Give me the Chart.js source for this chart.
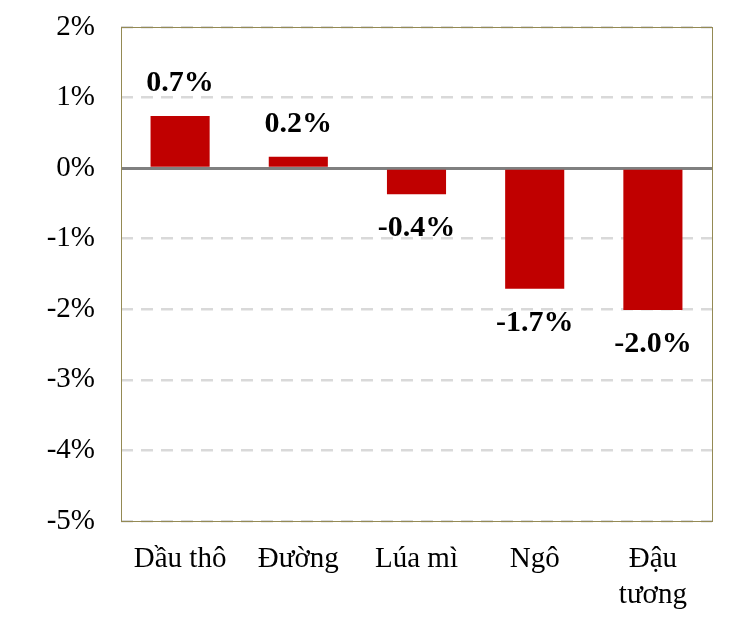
<!DOCTYPE html>
<html>
<head>
<meta charset="utf-8">
<script src="https://cdn.jsdelivr.net/npm/chart.js@4.4.0/dist/chart.umd.min.js"></script>
<style>
  html, body { margin: 0; padding: 0; background: #fff; }
  #wrap { width: 754px; height: 624px; }
</style>
</head>
<body>
<div id="wrap"><canvas id="chart"></canvas></div>
<script>
// Data (% change)
const categories = ['Dầu thô', 'Đường', 'Lúa mì', 'Ngô', ['Đậu', 'tương']];
const changes = [0.74, 0.16, -0.37, -1.71, -2.01];
const yTicks = [2, 1, 0, -1, -2, -3, -4, -5];

const FONT = '"Liberation Serif", "Times New Roman", serif';

// Frame around the plot area
const frame = {
    id: 'frame',
    afterDraw(chart) {
        const { ctx, chartArea: a } = chart;
        ctx.save();
        ctx.strokeStyle = '#948a54';
        ctx.lineWidth = 1;
        ctx.strokeRect(a.left + 0.5, a.top + 0.5, a.right - a.left, a.bottom - a.top);
        ctx.restore();
    }
};

// Value labels above/below the bars
const valueLabels = {
    id: 'valueLabels',
    afterDatasetsDraw(chart) {
        const { ctx } = chart;
        const meta = chart.getDatasetMeta(0);
        ctx.save();
        ctx.font = 'bold 30px ' + FONT;
        ctx.fillStyle = '#000';
        ctx.textAlign = 'center';
        ctx.textBaseline = 'middle';
        meta.data.forEach((bar, i) => {
            const v = changes[i];
            const y = v >= 0 ? bar.y - 33 : bar.y + 34;
            ctx.fillText(v.toFixed(1) + '%', bar.x, y);
        });
        ctx.restore();
    }
};

new Chart(document.getElementById('chart').getContext('2d'), {
    type: 'bar',
    data: {
        labels: categories,
        datasets: [{
            data: changes,
            backgroundColor: '#c00000',
            barPercentage: 0.5,
            categoryPercentage: 1
        }]
    },
    options: {
        responsive: true,
        maintainAspectRatio: false,
        animation: false,
        layout: { padding: { top: 27, right: 42, left: 0, bottom: 0 } },
        plugins: { legend: { display: false }, tooltip: { enabled: false } },
        scales: {
            x: {
                grid: { display: false },
                border: { display: false },
                afterFit: (axis) => { axis.height = 103; },
                ticks: {
                    color: '#000',
                    font: { family: FONT, size: 29, lineHeight: 1.25 },
                    padding: 12,
                    maxRotation: 0
                }
            },
            y: {
                min: -5,
                max: 2,
                afterBuildTicks: (axis) => { axis.ticks = yTicks.map(v => ({ value: v })); },
                afterFit: (axis) => {
                    axis.width = 121;
                    axis.paddingTop = 0;
                    axis.paddingBottom = 0;
                },
                grid: {
                    color: (c) => c.tick && c.tick.value === 0 ? '#808080' : '#d9d9d9',
                    lineWidth: (c) => c.tick && c.tick.value === 0 ? 3 : 2.5,
                    drawTicks: false
                },
                border: {
                    display: false,
                    dash: (c) => c.tick && c.tick.value === 0 ? [] : [12, 8]
                },
                ticks: {
                    color: '#000',
                    font: { family: FONT, size: 29 },
                    padding: 26,
                    callback: (v) => v + '%'
                }
            }
        }
    },
    plugins: [frame, valueLabels]
});
</script>
</body>
</html>
